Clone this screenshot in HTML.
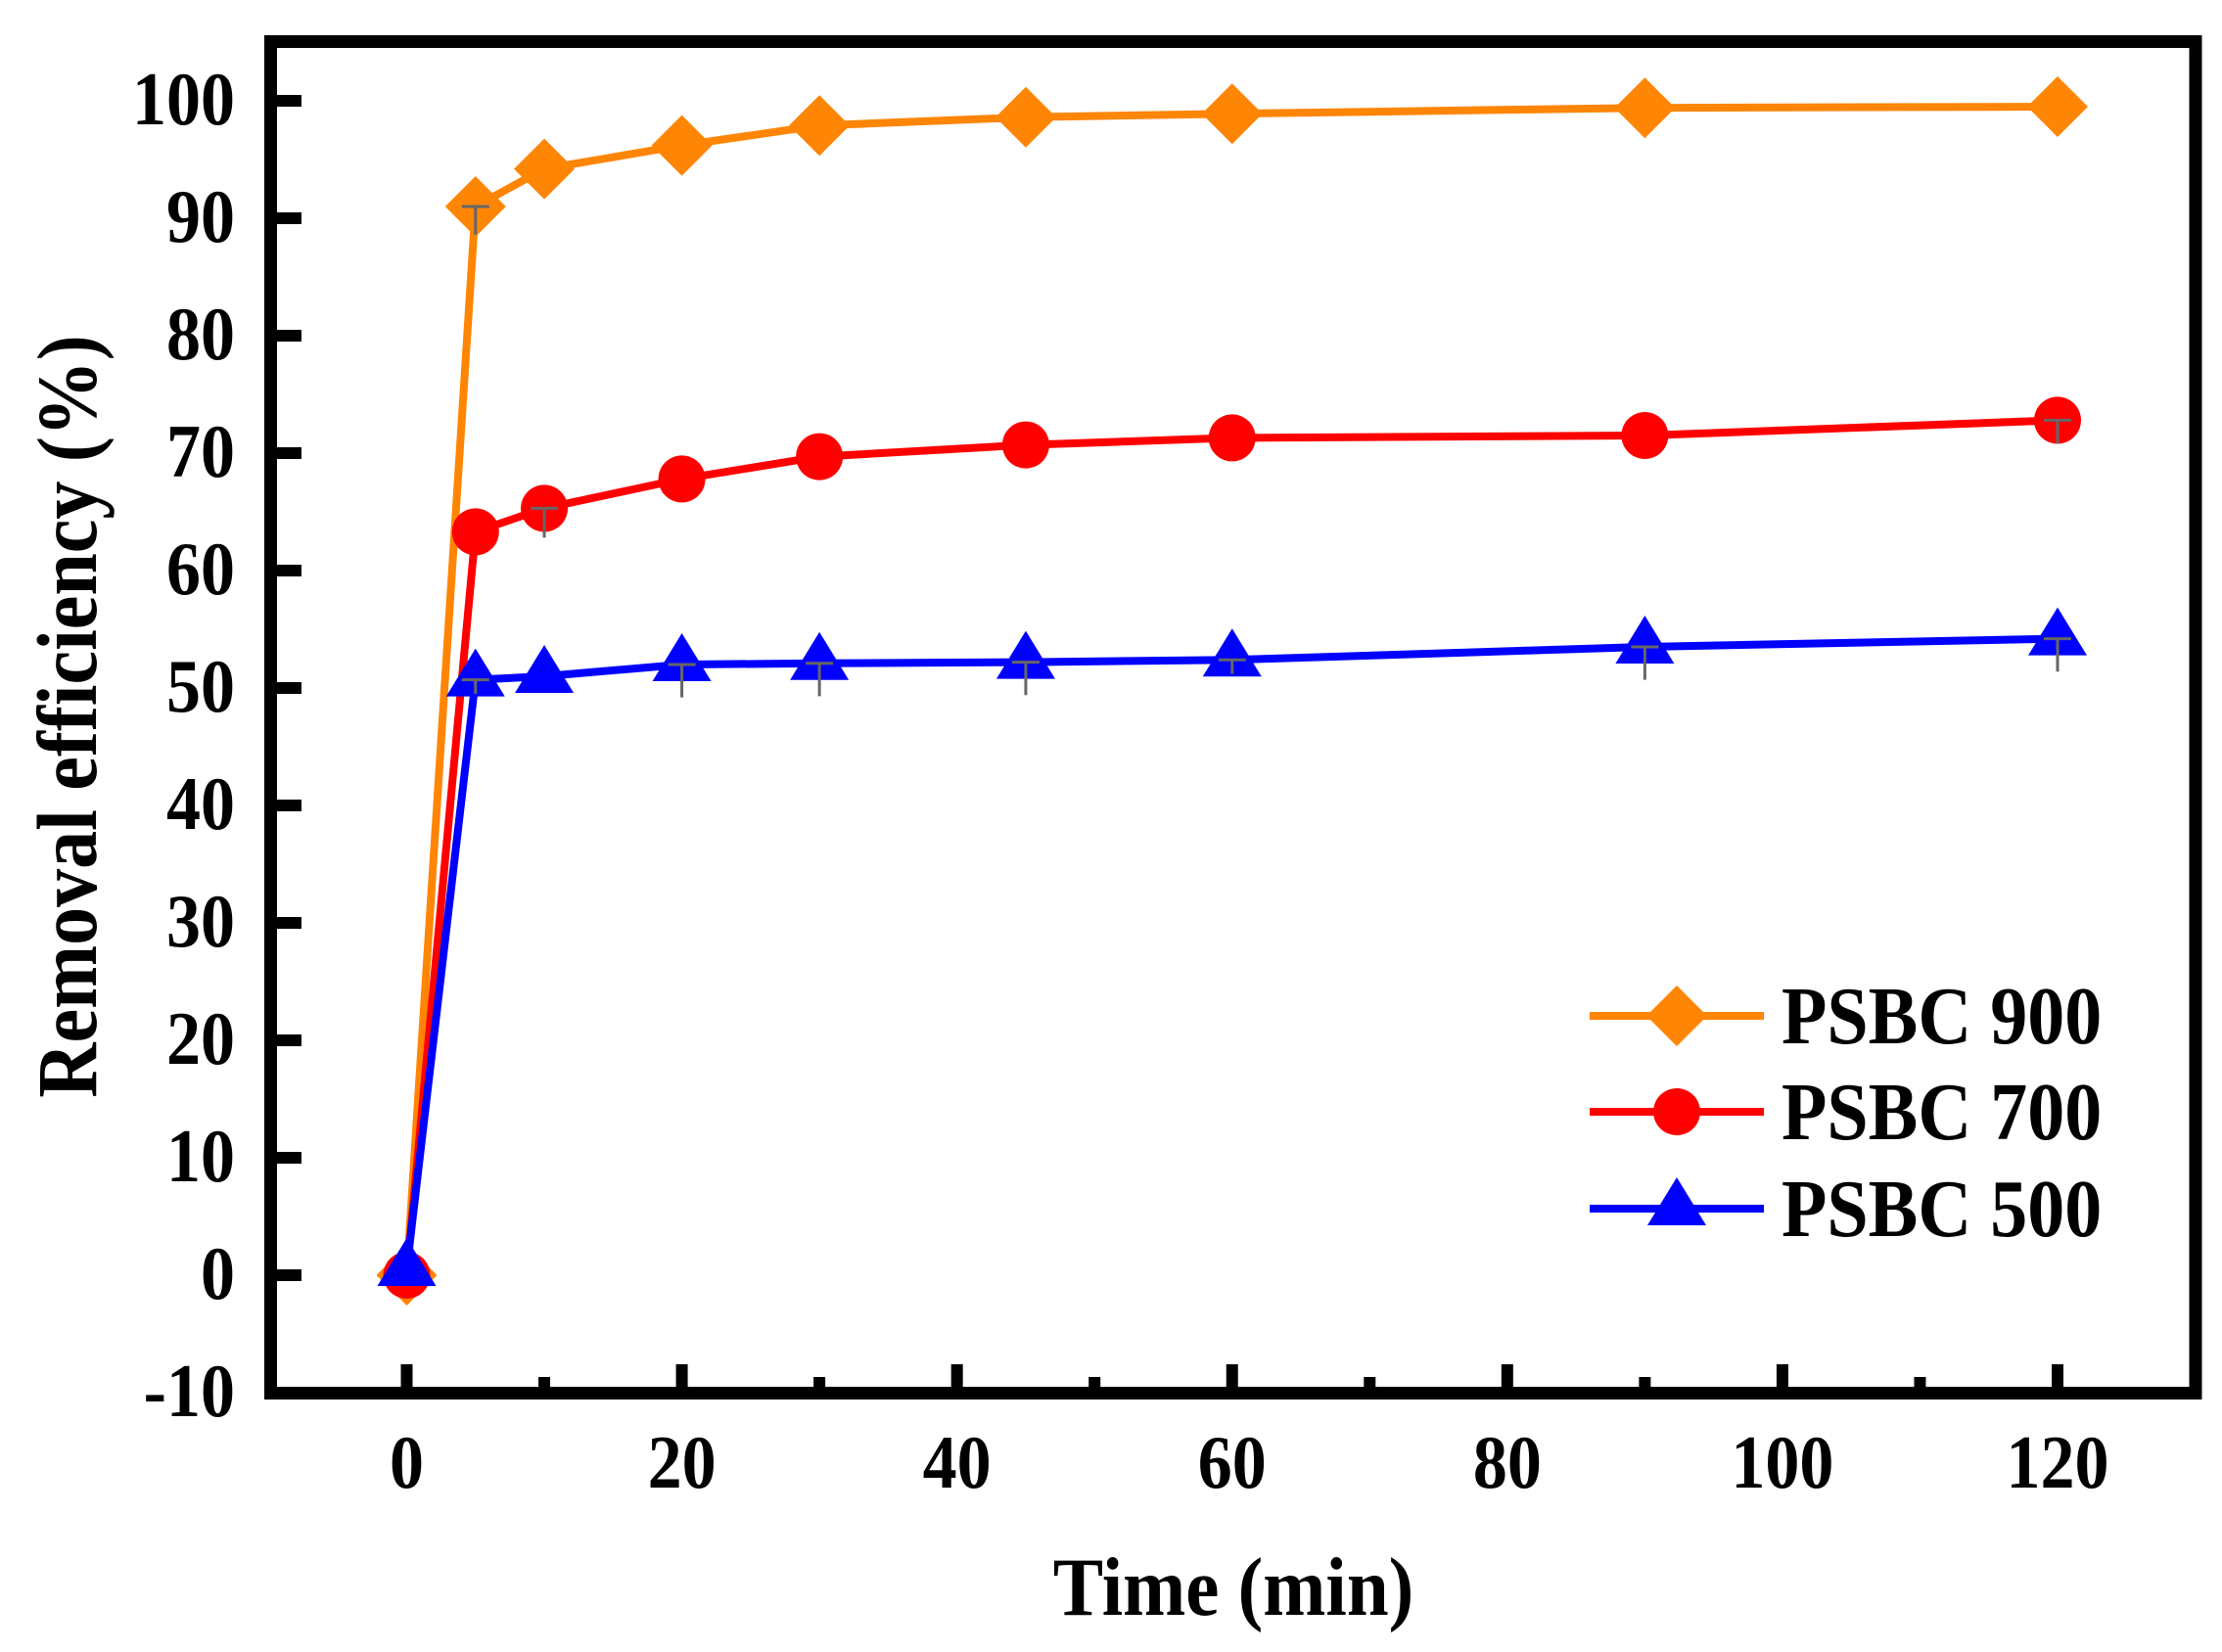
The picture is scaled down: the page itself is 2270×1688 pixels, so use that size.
<!DOCTYPE html>
<html><head><meta charset="utf-8"><style>
html,body{margin:0;padding:0;background:#fff;}
svg{display:block;}
text{font-family:"Liberation Serif",serif;font-weight:bold;fill:#000;}
</style></head><body>
<svg id="chart" width="2270" height="1688" viewBox="0 0 2270 1688" xmlns="http://www.w3.org/2000/svg">
<g id="plot"></g>
</svg>
<script>
const times = [0, 5, 10, 20, 30, 45, 60, 90, 120];
const psbc900 = [0, 91.0, 94.2, 96.2, 97.9, 98.6, 98.9, 99.4, 99.5];
const psbc700 = [0, 63.3, 65.3, 67.8, 69.7, 70.7, 71.3, 71.5, 72.8];
const psbc500 = [0.5, 50.7, 51.0, 52.0, 52.1, 52.2, 52.4, 53.5, 54.2];
const err900 = [1.0, 2.4, 0, 0, 0, 0, 0, 0, 0];
const err700 = [0, 0, 2.5, 0, 0, 0, 0, 0, 2.0];
const err500 = [0, 1.2, 0, 2.8, 2.8, 2.8, 1.2, 2.8, 2.8];
const xTicks = [0, 20, 40, 60, 80, 100, 120];
const xMinor = [10, 30, 50, 70, 90, 110];
const yTicks = [-10, 0, 10, 20, 30, 40, 50, 60, 70, 80, 90, 100];
const seriesNames = ["PSBC 900", "PSBC 700", "PSBC 500"];

const NS = "http://www.w3.org/2000/svg";
const g = document.getElementById('plot');
function X(v){ return 415.5 + (v - 0) * (2102 - 415.5) / 120; }
function Y(v){ return 1303 - v * 12.0; }
function el(tag, attrs, parent){
  const e = document.createElementNS(NS, tag);
  for (const k in attrs) e.setAttribute(k, attrs[k]);
  (parent || g).appendChild(e);
  return e;
}

// frame
const frame = el('rect', {x:276.5, y:42.5, width:1966.5, height:1381, fill:'none', stroke:'#000', 'stroke-width':13});



// y ticks + labels
yTicks.forEach(v => {
  const t = el('line', {x1:283, x2:308, y1:Y(v), y2:Y(v), stroke:'#000', 'stroke-width':12});
  
  
  const l = el('text', {x:0, y:0, 'text-anchor':'end', 'font-size':70, transform:`translate(240,${Y(v)+24}) scale(1,1.1)`});
  l.textContent = v;
  
  
});
// x ticks + labels
xTicks.forEach(v => {
  const t = el('line', {x1:X(v), x2:X(v), y1:1417, y2:1394, stroke:'#000', 'stroke-width':12});
  
  
  const l = el('text', {x:0, y:0, 'text-anchor':'middle', 'font-size':70, transform:`translate(${X(v)},1520) scale(1,1.1)`});
  l.textContent = v;
  
  
});
xMinor.forEach(v => {
  const t = el('line', {x1:X(v), x2:X(v), y1:1417, y2:1407, stroke:'#000', 'stroke-width':12});
  
  
});

// axis titles
const xt = el('text', {x:0, y:0, 'text-anchor':'middle', 'font-size':77, transform:'translate(1260,1650) scale(1,1.1)'});
xt.textContent = 'Time (min)';


const yt = el('text', {x:0, y:0, 'text-anchor':'middle', 'font-size':78, transform:'translate(98,732) rotate(-90) scale(1,1.12)'});
yt.textContent = 'Removal efficiency (%)';



function marker(type, cx, cy, color, parent){
  let m;
  if (type === 'diamond') m = el('polygon', {points:`${cx},${cy-31} ${cx+31},${cy} ${cx},${cy+31} ${cx-31},${cy}`, fill:color}, parent);
  else if (type === 'circle') m = el('circle', {cx:cx, cy:cy, r:24, fill:color}, parent);
  else m = el('polygon', {points:`${cx},${cy-32} ${cx+30},${cy+17} ${cx-30},${cy+17}`, fill:color}, parent);
  return m;
}

const series = [
  {vals: psbc900, errs: err900, color:'#FF8505', type:'diamond', name:'psbc-900'},
  {vals: psbc700, errs: err700, color:'#FF0000', type:'circle', name:'psbc-700'},
  {vals: psbc500, errs: err500, color:'#0000FF', type:'triangle', name:'psbc-500'}
];
series.forEach(s => {
  const sg = el('g', {});
  
  
  const pts = times.map((t, i) => X(t) + ',' + Y(s.vals[i])).join(' ');
  const line = el('polyline', {points:pts, fill:'none', stroke:s.color, 'stroke-width':8, 'stroke-linejoin':'round'}, sg);
  
  
  times.forEach((t, i) => {
    const m = marker(s.type, X(t), Y(s.vals[i]), s.color, sg);
    
    
  });
  times.forEach((t, i) => {
    if (!s.errs[i]) return;
    const cx = X(t), cy = Y(s.vals[i]), cy2 = Y(s.vals[i] - s.errs[i]);
    const eb = el('path', {d:`M${cx-14},${cy} H${cx+14} M${cx},${cy} V${cy2}`, stroke:'#666', 'stroke-width':3, fill:'none'}, sg);
    
    
  });
});

// legend
const lg = el('g', {});


const legendY = [1038, 1136, 1235];
series.forEach((s, i) => {
  const y = legendY[i];
  const ln = el('line', {x1:1624, x2:1802, y1:y, y2:y, stroke:s.color, 'stroke-width':8}, lg);
  
  
  const m = marker(s.type, 1713, y, s.color, lg);
  
  
  const tx = el('text', {x:0, y:0, 'font-size':76, transform:`translate(1820,${y+28}) scale(1,1.1)`}, lg);
  tx.textContent = seriesNames[i];
  
  
});
</script>
</body></html>
